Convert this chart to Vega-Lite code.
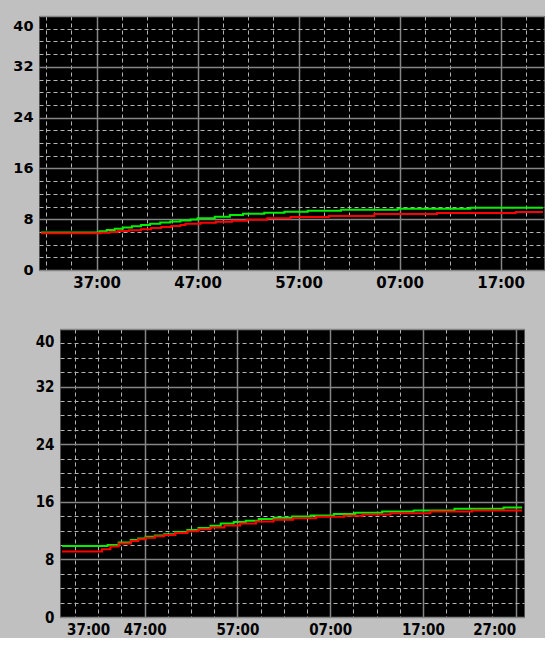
{
  "$schema": "https://vega.github.io/schema/vega-lite/v6.json",
  "background": "#c0c0c0",
  "padding": {"left": 0, "top": 15, "right": 0, "bottom": 0},
  "spacing": 27,
  "config": {
    "view": {"fill": "#000000", "stroke": "#505050", "strokeWidth": 1},
    "axis": {"labelColor": "#000000", "title": null, "ticks": false, "domain": false, "labelFlush": false, "labelOverlap": false}
  },
  "datasets": {
    "top": [
      {"series": "green", "minute": 31.5, "value": 5.9},
      {"series": "green", "minute": 37.0, "value": 5.9},
      {"series": "green", "minute": 37.3, "value": 6.1},
      {"series": "green", "minute": 38.0, "value": 6.3},
      {"series": "green", "minute": 38.8, "value": 6.5},
      {"series": "green", "minute": 39.6, "value": 6.7},
      {"series": "green", "minute": 40.5, "value": 6.9},
      {"series": "green", "minute": 41.4, "value": 7.1},
      {"series": "green", "minute": 42.3, "value": 7.3},
      {"series": "green", "minute": 43.3, "value": 7.5},
      {"series": "green", "minute": 44.3, "value": 7.65},
      {"series": "green", "minute": 45.3, "value": 7.8},
      {"series": "green", "minute": 46.3, "value": 7.95},
      {"series": "green", "minute": 47.0, "value": 8.13},
      {"series": "green", "minute": 48.7, "value": 8.4},
      {"series": "green", "minute": 50.2, "value": 8.66},
      {"series": "green", "minute": 51.5, "value": 8.87},
      {"series": "green", "minute": 53.6, "value": 9.03},
      {"series": "green", "minute": 55.6, "value": 9.19},
      {"series": "green", "minute": 57.9, "value": 9.35},
      {"series": "green", "minute": 61.2, "value": 9.5},
      {"series": "green", "minute": 66.8, "value": 9.66},
      {"series": "green", "minute": 74.0, "value": 9.82},
      {"series": "green", "minute": 81.2, "value": 9.82},
      {"series": "red", "minute": 31.5, "value": 5.8},
      {"series": "red", "minute": 37.0, "value": 5.8},
      {"series": "red", "minute": 37.4, "value": 5.87},
      {"series": "red", "minute": 38.3, "value": 6.0},
      {"series": "red", "minute": 39.1, "value": 6.14},
      {"series": "red", "minute": 40.2, "value": 6.27},
      {"series": "red", "minute": 41.4, "value": 6.4},
      {"series": "red", "minute": 42.4, "value": 6.6},
      {"series": "red", "minute": 43.4, "value": 6.77},
      {"series": "red", "minute": 44.4, "value": 6.93},
      {"series": "red", "minute": 45.3, "value": 7.09},
      {"series": "red", "minute": 45.8, "value": 7.3},
      {"series": "red", "minute": 47.3, "value": 7.45},
      {"series": "red", "minute": 48.8, "value": 7.6},
      {"series": "red", "minute": 50.4, "value": 7.75},
      {"series": "red", "minute": 51.9, "value": 7.92},
      {"series": "red", "minute": 53.9, "value": 8.13},
      {"series": "red", "minute": 56.2, "value": 8.35},
      {"series": "red", "minute": 60.0, "value": 8.5},
      {"series": "red", "minute": 64.5, "value": 8.8},
      {"series": "red", "minute": 70.7, "value": 8.98},
      {"series": "red", "minute": 78.5, "value": 9.13},
      {"series": "red", "minute": 81.2, "value": 9.13}
    ],
    "bottom": [
      {"series": "green", "minute": 38.1, "value": 9.85},
      {"series": "green", "minute": 42.4, "value": 9.85},
      {"series": "green", "minute": 43.0, "value": 10.0},
      {"series": "green", "minute": 44.2, "value": 10.35},
      {"series": "green", "minute": 45.5, "value": 10.68},
      {"series": "green", "minute": 46.3, "value": 10.9},
      {"series": "green", "minute": 47.1, "value": 11.14},
      {"series": "green", "minute": 48.1, "value": 11.32},
      {"series": "green", "minute": 49.1, "value": 11.5},
      {"series": "green", "minute": 50.3, "value": 11.8},
      {"series": "green", "minute": 51.6, "value": 12.07},
      {"series": "green", "minute": 52.8, "value": 12.35},
      {"series": "green", "minute": 54.1, "value": 12.66},
      {"series": "green", "minute": 55.2, "value": 12.99},
      {"series": "green", "minute": 56.6, "value": 13.2},
      {"series": "green", "minute": 57.9, "value": 13.37},
      {"series": "green", "minute": 59.3, "value": 13.6},
      {"series": "green", "minute": 60.9, "value": 13.78},
      {"series": "green", "minute": 62.9, "value": 13.96},
      {"series": "green", "minute": 64.9, "value": 14.1},
      {"series": "green", "minute": 67.4, "value": 14.3},
      {"series": "green", "minute": 69.7, "value": 14.47},
      {"series": "green", "minute": 72.6, "value": 14.66},
      {"series": "green", "minute": 76.0, "value": 14.8},
      {"series": "green", "minute": 80.4, "value": 15.02},
      {"series": "green", "minute": 85.7, "value": 15.2},
      {"series": "green", "minute": 87.7, "value": 15.2},
      {"series": "red", "minute": 38.1, "value": 9.11},
      {"series": "red", "minute": 41.9, "value": 9.11},
      {"series": "red", "minute": 42.4, "value": 9.4},
      {"series": "red", "minute": 43.3, "value": 9.8},
      {"series": "red", "minute": 44.2, "value": 10.2},
      {"series": "red", "minute": 45.5, "value": 10.55},
      {"series": "red", "minute": 46.3, "value": 10.8},
      {"series": "red", "minute": 47.1, "value": 11.0},
      {"series": "red", "minute": 48.1, "value": 11.2},
      {"series": "red", "minute": 49.1, "value": 11.4},
      {"series": "red", "minute": 50.3, "value": 11.65},
      {"series": "red", "minute": 51.6, "value": 11.9},
      {"series": "red", "minute": 52.8, "value": 12.2},
      {"series": "red", "minute": 54.1, "value": 12.44},
      {"series": "red", "minute": 55.6, "value": 12.7},
      {"series": "red", "minute": 57.3, "value": 13.0},
      {"series": "red", "minute": 59.0, "value": 13.25},
      {"series": "red", "minute": 60.9, "value": 13.5},
      {"series": "red", "minute": 63.0, "value": 13.7},
      {"series": "red", "minute": 65.5, "value": 13.91},
      {"series": "red", "minute": 68.5, "value": 14.05},
      {"series": "red", "minute": 70.5, "value": 14.24},
      {"series": "red", "minute": 73.5, "value": 14.4},
      {"series": "red", "minute": 77.8, "value": 14.66},
      {"series": "red", "minute": 82.3, "value": 14.8},
      {"series": "red", "minute": 87.7, "value": 14.8}
    ]
  },
  "vconcat": [
    {
      "width": 505,
      "height": 254,
      "data": {"name": "top"},
      "mark": {"type": "line", "interpolate": "step-after", "strokeWidth": 2, "clip": true},
      "encoding": {
        "x": {
          "field": "minute", "type": "quantitative",
          "scale": {"domain": [31.3, 81.3], "nice": false, "zero": false},
          "axis": {
            "values": [32, 34.5, 37, 39.5, 42, 44.5, 47, 49.5, 52, 54.5, 57, 59.5, 62, 64.5, 67, 69.5, 72, 74.5, 77, 79.5],
            "labelExpr": "(datum.value - 37) % 10 == 0 ? ((datum.value % 60 < 10 ? '0' : '') + (datum.value % 60) + ':00') : ''",
            "grid": true,
            "gridDash": {"condition": {"test": "(datum.value - 37) % 10 == 0", "value": []}, "value": [4, 3]},
            "gridColor": {"condition": {"test": "(datum.value - 37) % 10 == 0", "value": "#858585"}, "value": "#b4b4b4"},
            "gridWidth": {"condition": {"test": "(datum.value - 37) % 10 == 0", "value": 1.5}, "value": 1},
            "labelFont": "DejaVu Sans", "labelFontWeight": "bold", "labelFontSize": 15,
            "labelPadding": 5, "labelBaseline": "top",
            "minExtent": 30, "maxExtent": 30
          }
        },
        "y": {
          "field": "value", "type": "quantitative",
          "scale": {"domain": [0, 40], "nice": false, "zero": true},
          "axis": {
            "values": [0, 2, 4, 6, 8, 10, 12, 14, 16, 18, 20, 22, 24, 26, 28, 30, 32, 34, 36, 38, 40],
            "labelExpr": "datum.value % 8 == 0 ? datum.label : ''",
            "grid": true,
            "gridDash": {"condition": {"test": "datum.value % 8 == 0", "value": []}, "value": [4, 3]},
            "gridColor": {"condition": {"test": "datum.value % 8 == 0", "value": "#858585"}, "value": "#b4b4b4"},
            "gridWidth": {"condition": {"test": "datum.value % 8 == 0", "value": 1.5}, "value": 1},
            "labelFont": "DejaVu Sans", "labelFontWeight": "bold", "labelFontSize": 14.5,
            "labelPadding": 6, "labelBaseline": "middle",
            "labelOffset": {"condition": {"test": "datum.value == 40", "value": 10}, "value": 0},
            "minExtent": 38
          }
        },
        "color": {"field": "series", "type": "nominal", "scale": {"domain": ["green", "red"], "range": ["#00f000", "#ff0000"]}, "legend": null}
      }
    },
    {
      "bounds": "flush",
      "spacing": 20,
      "hconcat": [
        {
          "width": 1,
          "height": 1,
          "view": {"fill": null, "stroke": null},
          "data": {"values": []},
          "mark": {"type": "point", "opacity": 0},
          "encoding": {}
        },
        {
          "width": 464,
          "height": 288,
          "data": {"name": "bottom"},
          "mark": {"type": "line", "interpolate": "step-after", "strokeWidth": 2, "clip": true},
          "encoding": {
            "x": {
              "field": "minute", "type": "quantitative",
              "scale": {"domain": [37.87, 87.9], "nice": false, "zero": false},
              "axis": {
                "values": [39.5, 40.9, 42, 44.5, 47, 49.5, 52, 54.5, 57, 59.5, 62, 64.5, 67, 69.5, 72, 74.5, 77, 79.5, 82, 84.5, 87],
                "labelExpr": "datum.value == 40.9 ? '37:00' : ((datum.value - 47) % 10 == 0 ? ((datum.value % 60 < 10 ? '0' : '') + (datum.value % 60) + ':00') : '')",
                "grid": true,
                "gridDash": {"condition": {"test": "(datum.value - 47) % 10 == 0", "value": []}, "value": [4, 3]},
                "gridColor": {"condition": {"test": "(datum.value - 47) % 10 == 0", "value": "#858585"}, "value": "#b4b4b4"},
                "gridWidth": {"condition": {"test": "(datum.value - 47) % 10 == 0", "value": 1.5}, "value": 1},
                "gridOpacity": {"condition": {"test": "datum.value == 40.9", "value": 0}, "value": 1},
                "labelAlign": {"condition": {"test": "datum.value == 87", "value": "right"}, "value": "center"},
                "labelFont": "DejaVu Sans Condensed", "labelFontWeight": "bold", "labelFontSize": 15,
                "labelPadding": 5, "labelBaseline": "top"
              }
            },
            "y": {
              "field": "value", "type": "quantitative",
              "scale": {"domain": [0, 40], "nice": false, "zero": true},
              "axis": {
                "values": [0, 2, 4, 6, 8, 10, 12, 14, 16, 18, 20, 22, 24, 26, 28, 30, 32, 34, 36, 38, 40],
                "labelExpr": "datum.value % 8 == 0 ? datum.label : ''",
                "grid": true,
                "gridDash": {"condition": {"test": "datum.value % 8 == 0", "value": []}, "value": [4, 3]},
                "gridColor": {"condition": {"test": "datum.value % 8 == 0", "value": "#858585"}, "value": "#b4b4b4"},
                "gridWidth": {"condition": {"test": "datum.value % 8 == 0", "value": 1.5}, "value": 1},
                "labelFont": "DejaVu Sans Condensed", "labelFontWeight": "bold", "labelFontSize": 15,
                "labelPadding": 6, "labelBaseline": "middle",
                "labelOffset": {"condition": {"test": "datum.value == 40", "value": 12}, "value": 0},
                "minExtent": 0
              }
            },
            "color": {"field": "series", "type": "nominal", "scale": {"domain": ["green", "red"], "range": ["#00f000", "#ff0000"]}, "legend": null}
          }
        }
      ]
    }
  ]
}
